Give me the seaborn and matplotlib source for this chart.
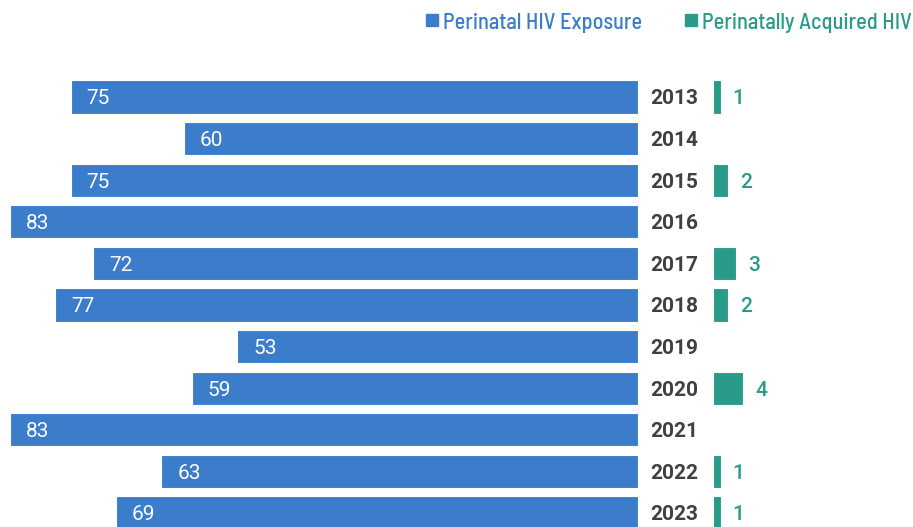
import matplotlib
matplotlib.use("Agg")
import matplotlib.pyplot as plt
from matplotlib import font_manager
import seaborn as sns
import pandas as pd

years = ["2013", "2014", "2015", "2016", "2017", "2018", "2019", "2020", "2021", "2022", "2023"]
exposure = [75, 60, 75, 83, 72, 77, 53, 59, 83, 63, 69]
acquired = [1, 0, 2, 0, 3, 2, 0, 4, 0, 1, 1]

blue = "#3B7DCB"
teal = "#2A9A89"
grey = "#404040"

sns.set_theme(style="white")
names = {f.name for f in font_manager.fontManager.ttflist}
narrow = next((n for n in ["Barlow Semi Condensed", "Roboto Condensed", "Archivo Narrow"]
               if n in names), "DejaVu Sans")
digits = ["Roboto", "DejaVu Sans"]
plt.rcParams["font.family"] = [narrow, "DejaVu Sans"]

df = pd.DataFrame({"year": years, "exposure": exposure, "acquired": acquired})

W, H = 913, 527
fig = plt.figure(figsize=(W / 100, H / 100), dpi=100)

px = 628 / 83  # pixels per case
ylim = (10 + (H - 513) / 41.6, -97 / 41.6)

ax_l = fig.add_axes([0, 0, 638 / W, 1])
ax_r = fig.add_axes([713 / W, 0, 200 / W, 1])

sns.barplot(data=df, x="exposure", y="year", orient="h", color=blue, width=0.8,
            edgecolor="white", linewidth=0.8, saturation=1, ax=ax_l)
ax_l.set_xlim(638 / px, 0)
ax_l.set_ylim(*ylim)

sns.barplot(data=df, x="acquired", y="year", orient="h", color=teal, width=0.8,
            edgecolor="white", linewidth=0.8, saturation=1, ax=ax_r)
ax_r.set_xlim(0, 200 / px)
ax_r.set_ylim(*ylim)

for ax in (ax_l, ax_r):
    ax.axis("off")

for i, (y, e, a) in enumerate(zip(years, exposure, acquired)):
    ax_l.text(e - 16 / px, i, str(e), color="white", fontsize=15, family=digits,
              ha="left", va="center_baseline")
    ax_l.text(-12 / px, i, y, color=grey, fontsize=15, fontweight="bold",
              family=digits, ha="left", va="center_baseline")
    if a:
        ax_r.text(a + 12 / px, i, str(a), color=teal, fontsize=15, fontweight="medium",
                  family=digits, ha="left", va="center_baseline")

# legend
fig.patches.append(plt.Rectangle((426 / W, 1 - 26 / H), 12 / W, 12 / H, color=blue,
                                 transform=fig.transFigure))
fig.text(443 / W, 1 - 21 / H, "Perinatal HIV Exposure", color=blue, fontsize=16,
         fontweight="medium", ha="left", va="center_baseline")
fig.patches.append(plt.Rectangle((685 / W, 1 - 26 / H), 12 / W, 12 / H, color=teal,
                                 transform=fig.transFigure))
fig.text(702 / W, 1 - 21 / H, "Perinatally Acquired HIV", color=teal, fontsize=16,
         fontweight="medium", ha="left", va="center_baseline")

fig.savefig("out.png", dpi=100)
